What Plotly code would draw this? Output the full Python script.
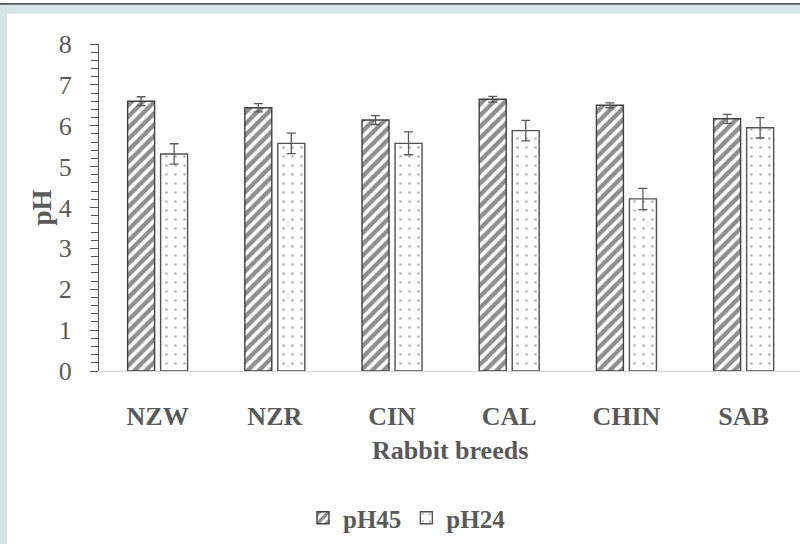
import plotly.graph_objects as go

# Rabbit breeds and mean muscle pH at 45 min and 24 h post mortem
breeds = ["NZW", "NZR", "CIN", "CAL", "CHIN", "SAB"]
ph45 = [6.60, 6.44, 6.14, 6.65, 6.50, 6.17]
ph45_err = [0.11, 0.10, 0.11, 0.07, 0.06, 0.11]
ph24 = [5.31, 5.57, 5.57, 5.88, 4.21, 5.95]
ph24_err = [0.25, 0.25, 0.28, 0.25, 0.26, 0.25]

y_ticks = [0, 1, 2, 3, 4, 5, 6, 7, 8]

TEXT = "#595959"
FONT = "Liberation Serif"

W, H = 800, 544
L, R, T, B = 99, 0, 44, 173
PW, PH = W - L - R, H - T - B


def px_x(x):
    return (x - L) / PW


def px_y(y):
    return (H - B - y) / PH


fig = go.Figure()

fig.add_trace(go.Bar(
    name="pH45", x=breeds, y=ph45,
    width=0.2304, offset=-0.256,
    marker=dict(
        color="white",
        line=dict(color="#404040", width=1.4),
        pattern=dict(shape="/", fgcolor="#1e1e1e", bgcolor="white",
                     size=8, solidity=0.55),
    ),
    error_y=dict(type="data", array=ph45_err, color=TEXT,
                 thickness=1.3, width=4.5),
))

fig.add_trace(go.Bar(
    name="pH24", x=breeds, y=ph24,
    width=0.2304, offset=0.0256,
    marker=dict(
        color="white",
        line=dict(color="#505050", width=1.4),
        pattern=dict(shape=".", fgcolor="#666666", bgcolor="white",
                     size=9, solidity=0.07),
    ),
    error_y=dict(type="data", array=ph24_err, color=TEXT,
                 thickness=1.3, width=4.5),
))

# page frame: thin top rule, pale band along top and left edge
shapes = [
    dict(type="rect", xref="paper", yref="paper",
         x0=px_x(0), x1=px_x(W), y0=px_y(13.5), y1=px_y(4.5),
         fillcolor="#d3e5e4", line=dict(width=0), layer="below"),
    dict(type="rect", xref="paper", yref="paper",
         x0=px_x(0), x1=px_x(7), y0=px_y(H), y1=px_y(4.5),
         fillcolor="#d3e5e4", line=dict(width=0), layer="below"),
    dict(type="rect", xref="paper", yref="paper",
         x0=px_x(0), x1=px_x(W), y0=px_y(4.8), y1=px_y(3),
         fillcolor="#555555", line=dict(width=0), layer="below"),
]

annotations = [
    dict(text="Rabbit breeds", xref="paper", yref="paper",
         x=0.5, y=px_y(450), xanchor="center", yanchor="middle",
         showarrow=False,
         font=dict(family=FONT, size=26, color=TEXT, weight="bold")),
    dict(text="pH", xref="paper", yref="paper",
         x=px_x(41), y=0.5, xanchor="center", yanchor="middle",
         textangle=-90, showarrow=False,
         font=dict(family=FONT, size=27, color=TEXT, weight="bold")),
]

fig.update_layout(
    width=W, height=H,
    margin=dict(l=L, r=R, t=T, b=B),
    paper_bgcolor="white", plot_bgcolor="white",
    barmode="overlay",
    showlegend=True,
    legend=dict(
        orientation="h", x=px_x(303), y=px_y(518),
        xanchor="left", yanchor="middle",
        font=dict(family=FONT, size=25, color=TEXT, weight="bold"),
        itemwidth=30, bgcolor="rgba(0,0,0,0)",
    ),
    shapes=shapes,
    annotations=annotations,
    xaxis=dict(
        type="category", range=[-0.5, 5.481],
        showline=True, linecolor="#d6d6d6", linewidth=1.3,
        ticks="", showgrid=False, zeroline=False,
        ticklabelstandoff=22,
        tickfont=dict(family=FONT, size=26, color=TEXT, weight="bold"),
    ),
    yaxis=dict(
        range=[0, 8], tickvals=y_ticks,
        showline=True, linecolor="#555555", linewidth=1.3,
        ticks="outside", ticklen=8, tickcolor="#555555", tickwidth=1.2,
        minor=dict(dtick=0.2, ticks="outside", ticklen=7,
                   tickcolor="#555555", tickwidth=1.2),
        showgrid=False, zeroline=False,
        ticklabelstandoff=13,
        tickfont=dict(family=FONT, size=26, color=TEXT),
    ),
)

fig.write_html("out.html")
